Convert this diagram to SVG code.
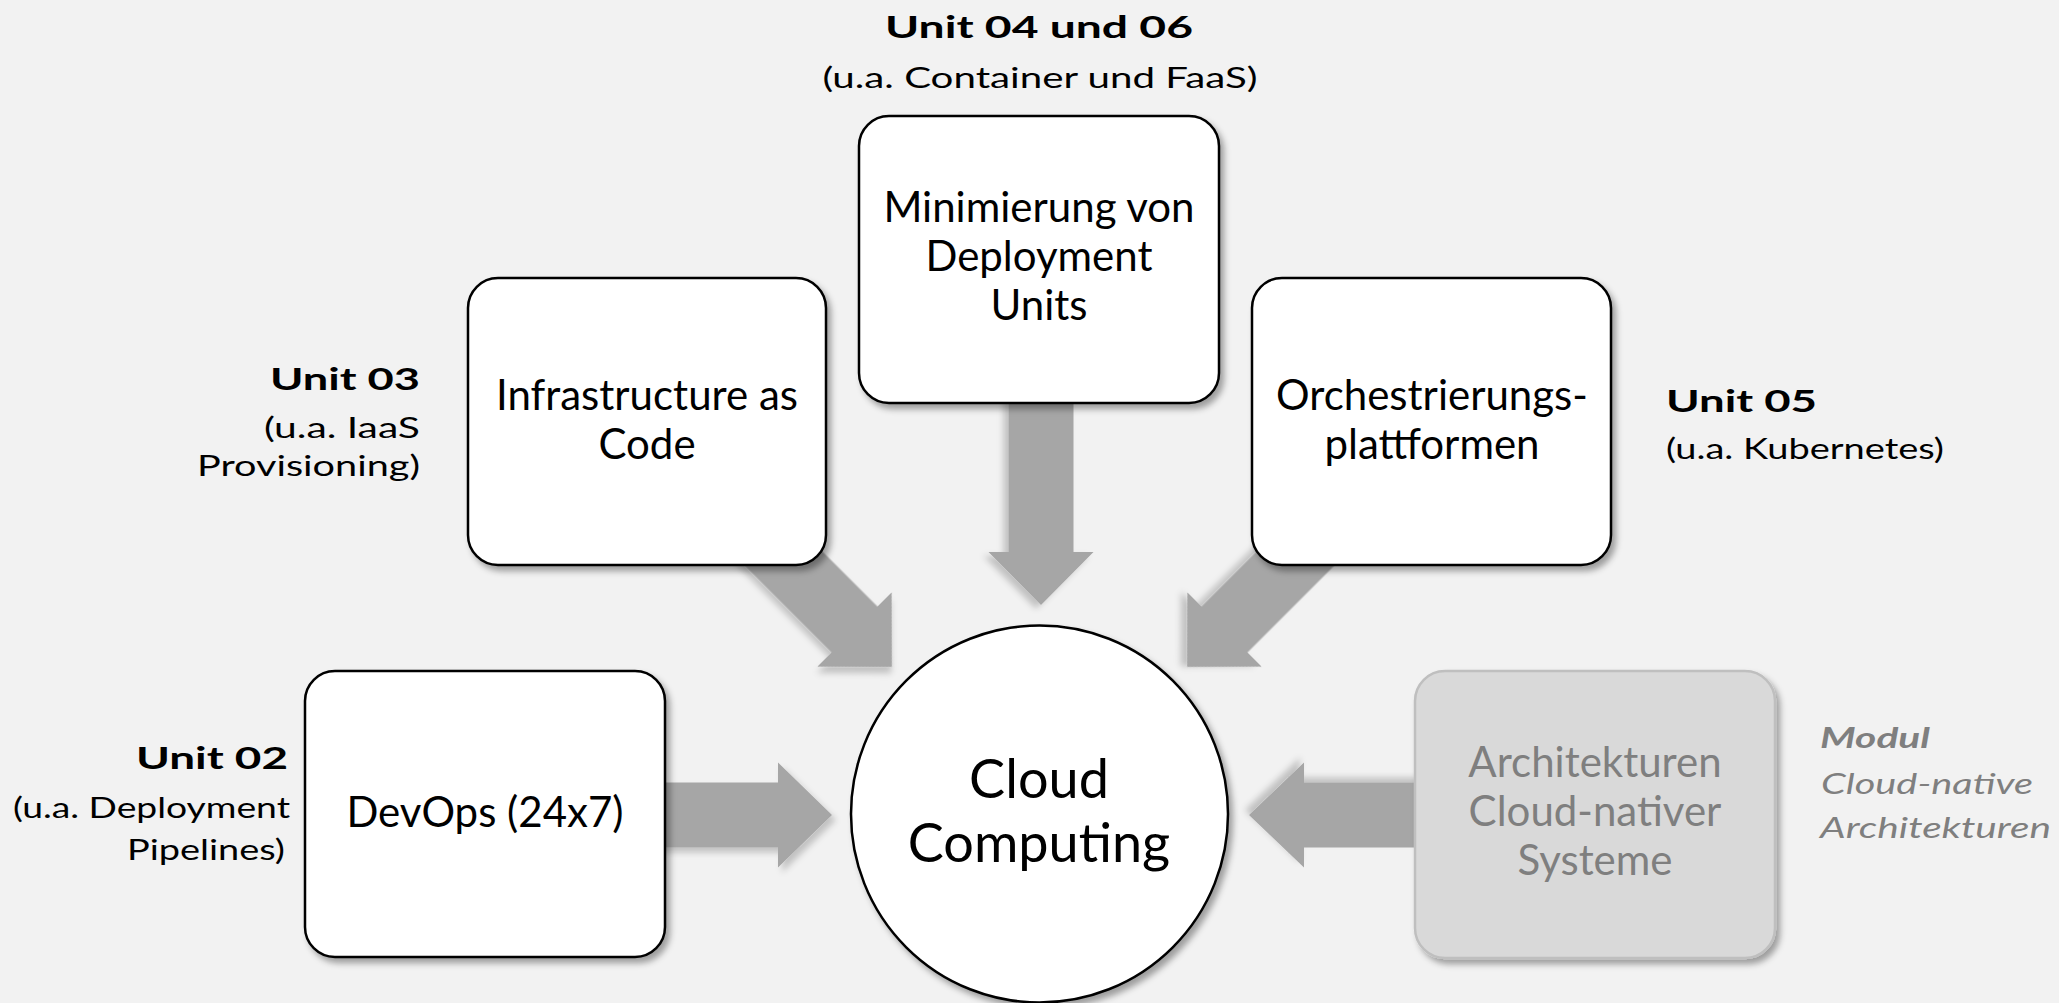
<svg xmlns="http://www.w3.org/2000/svg" width="2059" height="1003" viewBox="0 0 2059 1003">
<defs>
<filter id="sh" x="-20%" y="-20%" width="140%" height="140%">
<feDropShadow dx="4" dy="5" stdDeviation="3" flood-color="#000" flood-opacity="0.35"/>
</filter>
<filter id="sha" x="-20%" y="-20%" width="140%" height="140%">
<feDropShadow dx="4" dy="5" stdDeviation="3" flood-color="#000" flood-opacity="0.2"/>
</filter>
</defs>
<style>
.box{fill:#fff;stroke:#000;stroke-width:2.5;filter:url(#sh)}
.boxg{fill:#d9d9d9;stroke:#bfbfbf;stroke-width:2.5;filter:url(#sh)}
.arrow{fill:#a6a6a6;filter:url(#sha)}
.t{font-family:Lato,"Liberation Sans",sans-serif;font-size:42px;fill:#000;text-anchor:middle}
.tg{fill:#7f7f7f}
.big{font-size:54px}
.u{font-family:Lato,"Liberation Sans",sans-serif;font-size:31px;font-weight:bold;fill:#000}
.d{font-family:Lato,"Liberation Sans",sans-serif;font-size:29px;fill:#000}
.m{font-family:Lato,"Liberation Sans",sans-serif;font-size:29px;font-style:italic;fill:#7f7f7f}
</style>
<rect x="0" y="0" width="2059" height="1003" fill="#f2f2f2"/>

<g id="connectors">
<path class="arrow" transform="translate(1041,605) rotate(90)" d="M-215,-32.5 L-53,-32.5 L-53,-52.5 L0,0 L-53,52.5 L-53,32.5 L-215,32.5 Z"/>
<path class="arrow" transform="translate(892,667) rotate(45)" d="M-230,-32.5 L-53,-32.5 L-53,-52.5 L0,0 L-53,52.5 L-53,32.5 L-230,32.5 Z"/>
<path class="arrow" transform="translate(1187,667) rotate(135)" d="M-230,-32.5 L-53,-32.5 L-53,-52.5 L0,0 L-53,52.5 L-53,32.5 L-230,32.5 Z"/>
<path class="arrow" transform="translate(832,815)" d="M-175,-32.5 L-54,-32.5 L-54,-52.5 L0,0 L-54,52.5 L-54,32.5 L-175,32.5 Z"/>
<path class="arrow" transform="translate(1249,815) rotate(180)" d="M-175,-32.5 L-55,-32.5 L-55,-52.5 L0,0 L-55,52.5 L-55,32.5 L-175,32.5 Z"/>
</g>

<g id="node-minimierung">
<rect class="box" x="859" y="116" width="360" height="287" rx="30" ry="30"/>
<text class="t" x="1039" y="222">Minimierung von</text>
<text class="t" x="1039" y="271">Deployment</text>
<text class="t" x="1039" y="320">Units</text>
</g>

<g id="node-iac">
<rect class="box" x="468" y="278" width="358" height="287" rx="30" ry="30"/>
<text class="t" x="647" y="410">Infrastructure as</text>
<text class="t" x="647" y="459">Code</text>
</g>

<g id="node-orchestrierung">
<rect class="box" x="1252" y="278" width="359" height="287" rx="30" ry="30"/>
<text class="t" x="1432" y="410">Orchestrierungs-</text>
<text class="t" x="1432" y="459">plattformen</text>
</g>

<g id="node-devops">
<rect class="box" x="305" y="671" width="360" height="286" rx="30" ry="30"/>
<text class="t" x="485" y="827">DevOps (24x7)</text>
</g>

<g id="node-architekturen">
<rect class="boxg" x="1415" y="671" width="360" height="287" rx="30" ry="30"/>
<text class="t tg" x="1595" y="777">Architekturen</text>
<text class="t tg" x="1595" y="826">Cloud-nativer</text>
<text class="t tg" x="1595" y="875">Systeme</text>
</g>

<g id="node-cloud">
<circle class="box" cx="1039.5" cy="814" r="188.5"/>
<text class="t big" x="1039" y="798">Cloud</text>
<text class="t big" x="1039" y="862">Computing</text>
</g>

<g id="labels">
<text class="u" x="1039" y="38" text-anchor="middle" textLength="308" lengthAdjust="spacingAndGlyphs">Unit 04 und 06</text>
<text class="d" x="1040" y="88" text-anchor="middle" textLength="435" lengthAdjust="spacingAndGlyphs">(u.a. Container und FaaS)</text>

<text class="u" x="420" y="390" text-anchor="end" textLength="150" lengthAdjust="spacingAndGlyphs">Unit 03</text>
<text class="d" x="420" y="438" text-anchor="end" textLength="156" lengthAdjust="spacingAndGlyphs">(u.a. IaaS</text>
<text class="d" x="420" y="476" text-anchor="end" textLength="223" lengthAdjust="spacingAndGlyphs">Provisioning)</text>

<text class="u" x="1666" y="412" textLength="151" lengthAdjust="spacingAndGlyphs">Unit 05</text>
<text class="d" x="1666" y="459" textLength="278" lengthAdjust="spacingAndGlyphs">(u.a. Kubernetes)</text>

<text class="u" x="288" y="769" text-anchor="end" textLength="152" lengthAdjust="spacingAndGlyphs">Unit 02</text>
<text class="d" x="290" y="818" text-anchor="end" textLength="277" lengthAdjust="spacingAndGlyphs">(u.a. Deployment</text>
<text class="d" x="285" y="860" text-anchor="end" textLength="158" lengthAdjust="spacingAndGlyphs">Pipelines)</text>

<text class="m" x="1820" y="748" font-weight="bold" textLength="110" lengthAdjust="spacingAndGlyphs">Modul</text>
<text class="m" x="1821" y="794" textLength="212" lengthAdjust="spacingAndGlyphs">Cloud-native</text>
<text class="m" x="1820" y="838" textLength="231" lengthAdjust="spacingAndGlyphs">Architekturen</text>
</g>
</svg>
